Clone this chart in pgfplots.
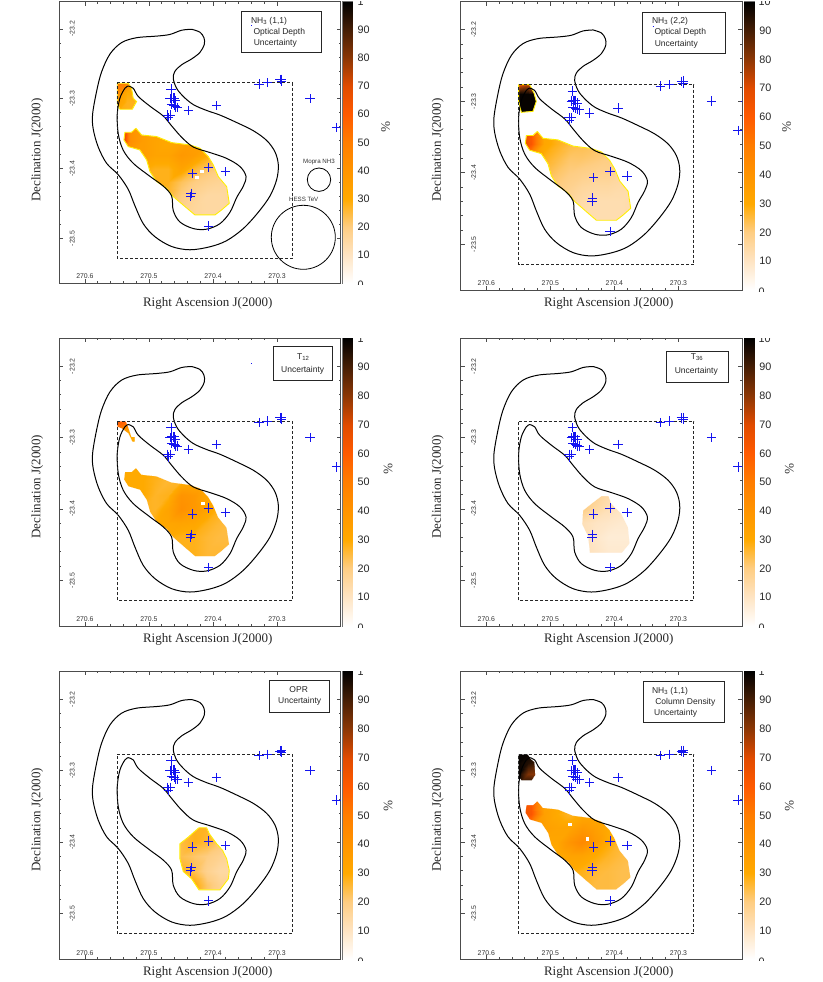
\documentclass[border=0pt]{standalone}
\usepackage{fontspec}
\setmainfont{Liberation Sans}
\newfontfamily\serifff{Liberation Serif}
\usepackage{pgfplots}
\usepackage{pgfplotstable}
\pgfplotsset{compat=1.18}

% contours
\pgfplotstableread{
ra dec
270.4333 -23.2005
270.4203 -23.2047
270.4141 -23.2126
270.4135 -23.2220
270.4203 -23.2336
270.4333 -23.2430
270.4490 -23.2514
270.4594 -23.2607
270.4620 -23.2710
270.4568 -23.2850
270.4464 -23.2967
270.4307 -23.3084
270.4099 -23.3168
270.3891 -23.3234
270.3630 -23.3341
270.3370 -23.3458
270.3161 -23.3598
270.3031 -23.3762
270.2979 -23.3949
270.3005 -23.4159
270.3109 -23.4393
270.3292 -23.4626
270.3526 -23.4860
270.3786 -23.5033
270.4047 -23.5121
270.4359 -23.5164
270.4646 -23.5117
270.4906 -23.4977
270.5089 -23.4790
270.5219 -23.4533
270.5323 -23.4299
270.5479 -23.4089
270.5661 -23.3925
270.5792 -23.3692
270.5870 -23.3435
270.5880 -23.3224
270.5818 -23.2897
270.5740 -23.2617
270.5609 -23.2360
270.5427 -23.2196
270.5193 -23.2126
270.4880 -23.2103
270.4672 -23.2079
270.4490 -23.2019
270.4333 -23.2005
}\outercontour
\pgfplotstableread{
ra dec
270.5323 -23.2818
270.5245 -23.2850
270.5167 -23.2967
270.4984 -23.3107
270.4776 -23.3248
270.4646 -23.3388
270.4490 -23.3551
270.4307 -23.3692
270.4047 -23.3771
270.3786 -23.3855
270.3578 -23.3972
270.3484 -23.4112
270.3526 -23.4252
270.3630 -23.4416
270.3734 -23.4626
270.3891 -23.4790
270.4099 -23.4869
270.4307 -23.4860
270.4516 -23.4766
270.4620 -23.4603
270.4646 -23.4393
270.4776 -23.4252
270.4984 -23.4112
270.5245 -23.3925
270.5401 -23.3738
270.5479 -23.3505
270.5495 -23.3224
270.5453 -23.2991
270.5375 -23.2850
270.5323 -23.2818
}\innercontour

% sources: the two arms of each cross, one path
\pgfplotstableread{
ra dec
270.4729 -23.2860
270.4583 -23.2860
nan nan
270.4656 -23.2794
270.4656 -23.2926
nan nan
270.4719 -23.2991
270.4573 -23.2991
nan nan
270.4646 -23.2925
270.4646 -23.3057
nan nan
270.4693 -23.2991
270.4547 -23.2991
nan nan
270.4620 -23.2925
270.4620 -23.3057
nan nan
270.4745 -23.3000
270.4599 -23.3000
nan nan
270.4672 -23.2934
270.4672 -23.3066
nan nan
270.4677 -23.2991
270.4531 -23.2991
nan nan
270.4604 -23.2925
270.4604 -23.3057
nan nan
270.4656 -23.3028
270.4510 -23.3028
nan nan
270.4583 -23.2962
270.4583 -23.3094
nan nan
270.4719 -23.3084
270.4573 -23.3084
nan nan
270.4646 -23.3018
270.4646 -23.3150
nan nan
270.4682 -23.3098
270.4536 -23.3098
nan nan
270.4609 -23.3032
270.4609 -23.3164
nan nan
270.4656 -23.3117
270.4510 -23.3117
nan nan
270.4583 -23.3051
270.4583 -23.3183
nan nan
270.4625 -23.3121
270.4479 -23.3121
nan nan
270.4552 -23.3055
270.4552 -23.3187
nan nan
270.4458 -23.3168
270.4312 -23.3168
nan nan
270.4385 -23.3102
270.4385 -23.3234
nan nan
270.4016 -23.3098
270.3870 -23.3098
nan nan
270.3943 -23.3032
270.3943 -23.3164
nan nan
270.4781 -23.3234
270.4635 -23.3234
nan nan
270.4708 -23.3168
270.4708 -23.3300
nan nan
270.4745 -23.3234
270.4599 -23.3234
nan nan
270.4672 -23.3168
270.4672 -23.3300
nan nan
270.4771 -23.3271
270.4625 -23.3271
nan nan
270.4698 -23.3205
270.4698 -23.3337
nan nan
270.4396 -23.4070
270.4250 -23.4070
nan nan
270.4323 -23.4004
270.4323 -23.4136
nan nan
270.4141 -23.3986
270.3995 -23.3986
nan nan
270.4068 -23.3920
270.4068 -23.4052
nan nan
270.3875 -23.4047
270.3729 -23.4047
nan nan
270.3802 -23.3981
270.3802 -23.4113
nan nan
270.4417 -23.4355
270.4271 -23.4355
nan nan
270.4344 -23.4289
270.4344 -23.4421
nan nan
270.4422 -23.4402
270.4276 -23.4402
nan nan
270.4349 -23.4336
270.4349 -23.4468
nan nan
270.4141 -23.4822
270.3995 -23.4822
nan nan
270.4068 -23.4756
270.4068 -23.4888
nan nan
270.3354 -23.2790
270.3208 -23.2790
nan nan
270.3281 -23.2724
270.3281 -23.2856
nan nan
270.3219 -23.2771
270.3073 -23.2771
nan nan
270.3146 -23.2705
270.3146 -23.2837
nan nan
270.3026 -23.2724
270.2880 -23.2724
nan nan
270.2953 -23.2658
270.2953 -23.2790
nan nan
270.3000 -23.2720
270.2854 -23.2720
nan nan
270.2927 -23.2654
270.2927 -23.2786
nan nan
270.3000 -23.2748
270.2854 -23.2748
nan nan
270.2927 -23.2682
270.2927 -23.2814
nan nan
270.2557 -23.3000
270.2411 -23.3000
nan nan
270.2484 -23.2934
270.2484 -23.3066
nan nan
270.2141 -23.3411
270.1995 -23.3411
nan nan
270.2068 -23.3345
270.2068 -23.3477
nan nan
270.2023 -23.3000
270.1877 -23.3000
nan nan
270.1950 -23.2934
270.1950 -23.3066
}\sources

% uncertainty grids (percent), one column per panel
\pgfplotstableread{
ra dec a b c d e f
270.55 -23.34 99 65 30 15 28 60
270.53 -23.34 42 60 30 15 28 60
270.51 -23.34 35 30 30 15 28 32
270.49 -23.34 33 28 30 15 28 30
270.47 -23.34 33 26 30 15 28 30
270.45 -23.34 32 25 28 15 28 30
270.43 -23.34 33 25 28 15 28 30
270.41 -23.34 33 25 28 15 28 28
270.39 -23.34 30 25 28 15 28 28
270.37 -23.34 28 25 28 15 28 28
270.55 -23.36 99 70 30 15 28 65
270.53 -23.36 42 62 30 15 28 62
270.51 -23.36 36 32 30 15 28 35
270.49 -23.36 33 28 28 15 28 30
270.47 -23.36 31 25 26 15 28 27
270.45 -23.36 33 24 27 15 28 30
270.43 -23.36 35 23 28 15 28 30
270.41 -23.36 33 22 28 15 28 28
270.39 -23.36 28 20 28 15 28 25
270.37 -23.36 25 18 28 15 28 25
270.55 -23.38 60 55 30 18 28 55
270.53 -23.38 36 38 30 18 28 42
270.51 -23.38 36 28 30 18 28 35
270.49 -23.38 33 25 27 18 28 33
270.47 -23.38 33 22 28 18 28 33
270.45 -23.38 38 22 40 20 28 38
270.43 -23.38 36 21 38 18 28 35
270.41 -23.38 30 20 32 14 27 30
270.39 -23.38 25 18 30 12 25 28
270.37 -23.38 22 16 28 10 22 25
270.55 -23.40 40 35 30 16 25 35
270.53 -23.40 35 30 30 16 25 32
270.51 -23.40 30 25 28 16 25 32
270.49 -23.40 28 22 27 16 25 32
270.47 -23.40 28 20 33 16 25 40
270.45 -23.40 33 19 42 20 25 45
270.43 -23.40 26 18 38 15 28 38
270.41 -23.40 22 18 33 12 26 30
270.39 -23.40 20 16 28 10 22 26
270.37 -23.40 18 15 27 9 20 24
270.55 -23.42 30 28 28 15 24 30
270.53 -23.42 30 25 28 15 24 30
270.51 -23.42 28 22 28 15 24 30
270.49 -23.42 28 20 30 15 24 30
270.47 -23.42 28 18 32 15 24 33
270.45 -23.42 23 16 33 12 24 33
270.43 -23.42 20 15 32 10 22 30
270.41 -23.42 18 15 28 9 20 27
270.39 -23.42 17 14 26 8 18 25
270.37 -23.42 17 14 25 8 17 24
270.55 -23.44 28 22 28 15 28 30
270.53 -23.44 28 22 28 15 28 30
270.51 -23.44 28 20 28 15 28 30
270.49 -23.44 28 18 30 15 28 30
270.47 -23.44 26 16 30 15 28 30
270.45 -23.44 20 14 28 12 28 28
270.43 -23.44 17 13 28 9 24 26
270.41 -23.44 15 13 26 7 18 25
270.39 -23.44 15 13 25 7 15 24
270.37 -23.44 16 14 25 7 15 24
270.55 -23.46 28 20 28 15 32 28
270.53 -23.46 28 20 28 15 32 28
270.51 -23.46 28 20 28 15 32 28
270.49 -23.46 28 18 28 15 32 28
270.47 -23.46 24 15 28 15 32 28
270.45 -23.46 18 13 28 12 32 27
270.43 -23.46 16 13 28 10 30 25
270.41 -23.46 15 13 26 8 22 25
270.39 -23.46 15 13 26 8 18 24
270.37 -23.46 16 14 26 8 16 24
270.55 -23.48 28 20 28 15 32 28
270.53 -23.48 28 20 28 15 32 28
270.51 -23.48 28 20 28 15 32 28
270.49 -23.48 28 18 28 15 32 28
270.47 -23.48 22 15 28 15 32 28
270.45 -23.48 18 13 28 12 32 27
270.43 -23.48 16 13 28 10 30 25
270.41 -23.48 15 13 26 8 22 25
270.39 -23.48 15 13 26 8 18 24
270.37 -23.48 16 14 26 8 16 24
}\gridmain
\pgfplotstableread{
ra dec a b c f
270.550 -23.275 55 62 62 99
270.535 -23.275 50 70 60 99
270.520 -23.275 35 50 30 95
270.550 -23.290 45 99 50 99
270.535 -23.290 30 99 35 95
270.520 -23.290 30 99 30 90
270.550 -23.305 35 99 30 99
270.535 -23.305 28 99 30 82
270.520 -23.305 28 99 30 80
270.550 -23.320 30 99 30 99
270.535 -23.320 28 99 30 99
270.520 -23.320 28 99 30 85
}\gridcorner

% region outlines
\pgfplotstableread{
ra dec
270.552 -23.338
270.368 -23.338
270.368 -23.482
270.552 -23.482
270.552 -23.338
}\rectmain
\pgfplotstableread{
ra dec
270.552 -23.273
270.518 -23.273
270.518 -23.322
270.552 -23.322
270.552 -23.273
}\rectcorner
\pgfplotstableread{
ra dec
270.5203 -23.3423
270.5115 -23.3519
270.4880 -23.3542
270.4646 -23.3628
270.4359 -23.3662
270.4203 -23.3710
270.4073 -23.3829
270.3995 -23.3948
270.3917 -23.4116
270.3786 -23.4259
270.3745 -23.4498
270.3865 -23.4593
270.3969 -23.4665
270.4281 -23.4665
270.4437 -23.4545
270.4620 -23.4402
270.4724 -23.4283
270.4880 -23.4187
270.4984 -23.4044
270.5036 -23.3877
270.5141 -23.3734
270.5323 -23.3686
270.5391 -23.3590
270.5375 -23.3480
270.5271 -23.3480
270.5203 -23.3423
}\shapelong
\pgfplotstableread{
ra dec
270.4203 -23.3818
270.4089 -23.3818
270.4047 -23.3925
270.3891 -23.4065
270.3786 -23.4252
270.3760 -23.4486
270.3880 -23.4617
270.4385 -23.4617
270.4411 -23.4393
270.4505 -23.4215
270.4490 -23.4019
270.4359 -23.3925
270.4203 -23.3818
}\shapefour
\pgfplotstableread{
ra dec
270.4219 -23.3799
270.4099 -23.3799
270.4057 -23.3883
270.3943 -23.4023
270.3849 -23.4117
270.3786 -23.4234
270.3745 -23.4397
270.3760 -23.4514
270.3891 -23.4668
270.4219 -23.4668
270.4333 -23.4514
270.4464 -23.4411
270.4516 -23.4234
270.4516 -23.4023
270.4385 -23.3930
270.4219 -23.3799
}\shapefive
\pgfplotstableread{
ra dec
270.5495 -23.2778
270.5323 -23.2778
270.5271 -23.2850
270.5245 -23.2993
270.5193 -23.3041
270.5260 -23.3151
270.5453 -23.3151
270.5495 -23.3065
270.5495 -23.2778
}\cornerone
\pgfplotstableread{
ra dec
270.5495 -23.2770
270.5323 -23.2770
270.5255 -23.2886
270.5219 -23.3003
270.5271 -23.3143
270.5453 -23.3157
270.5495 -23.3003
270.5495 -23.2770
}\cornertwo
\pgfplotstableread{
ra dec
270.5495 -23.2771
270.5359 -23.2771
270.5323 -23.2850
270.5271 -23.2991
270.5219 -23.2991
270.5219 -23.3061
270.5260 -23.3061
270.5323 -23.2944
270.5427 -23.2874
270.5495 -23.2850
270.5495 -23.2771
}\cornerthree
\pgfplotstableread{
ra dec
270.5495 -23.2771
270.5349 -23.2771
270.5307 -23.2832
270.5245 -23.2879
270.5234 -23.3065
270.5286 -23.3136
270.5453 -23.3136
270.5495 -23.3089
270.5495 -23.2771
}\cornersix

% colour scale, 0 to 100 percent
\pgfplotstableread{
x y
0 0
1 0
0 10
1 10
0 20
1 20
0 30
1 30
0 40
1 40
0 50
1 50
0 60
1 60
0 70
1 70
0 80
1 80
0 90
1 90
0 100
1 100
}\scaletable

\newcommand{\mkmask}[3]{\pgfplotstablevertcat{#1}{#2}\pgfplotstablevertcat{#1}{#3}}
\mkmask{\masklong}{\rectmain}{\shapelong}
\mkmask{\maskfour}{\rectmain}{\shapefour}
\mkmask{\maskfive}{\rectmain}{\shapefive}
\mkmask{\maskcone}{\rectcorner}{\cornerone}
\mkmask{\maskctwo}{\rectcorner}{\cornertwo}
\mkmask{\maskcthree}{\rectcorner}{\cornerthree}
\mkmask{\maskcsix}{\rectcorner}{\cornersix}

\definecolor{srcblue}{RGB}{20,20,240}

\pgfplotsset{
  colormap={uncert}{
    rgb255=(255,255,255) rgb255=(254,228,195) rgb255=(254,205,130) rgb255=(255,170,0)
    rgb255=(255,148,0) rgb255=(255,125,0) rgb255=(255,90,0) rgb255=(225,75,0)
    rgb255=(140,55,5) rgb255=(70,30,5) rgb255=(0,0,0)
  },
  panelaxis/.style={
    scale only axis, width=281.4pt,
    x dir=reverse, xmin=270.2005, xmax=270.64,
    ymin=-23.564, ymax=-23.161,
    colormap name=uncert, point meta min=0, point meta max=100,
    xtick={270.6,270.5,270.4,270.3}, xticklabels={270.6,270.5,270.4,270.3},
    ytick={-23.5,-23.4,-23.3,-23.2}, yticklabels={-23.5,-23.4,-23.3,-23.2},
    minor x tick num=4, minor y tick num=4,
    tick align=inside, major tick length=4pt, minor tick length=2pt,
    axis line style={black!70, line width=0.9pt},
    tick style={black!70, line width=0.6pt},
    xticklabel style={font=\fontsize{6.9}{7}\selectfont, text=black!80, yshift=12.5pt},
    yticklabel style={font=\fontsize{6.9}{7}\selectfont, text=black!80, rotate=90, anchor=center, yshift=-13pt},
  },
  contour/.style={black, line width=1pt, smooth, tension=0.55, no markers},
}

\newcommand{\blobplot}[3]{% grid, panel column, mask
  \addplot[surf, shader=interp, mesh/cols=10, point meta=explicit, forget plot]
    table[x=ra, y=dec, meta=#2] {#1};
  \addplot[fill=white, draw=white, line width=0.2pt, even odd rule, no markers] table[x=ra, y=dec] {#3};
}
\newcommand{\cornerplot}[2]{% panel column, mask
  \addplot[surf, shader=interp, mesh/cols=3, point meta=explicit, forget plot]
    table[x=ra, y=dec, meta=#1] {\gridcorner};
  \addplot[fill=white, draw=white, line width=0.2pt, even odd rule, no markers] table[x=ra, y=dec] {#2};
}
\newcommand{\edge}[1]{\addplot[yellow!95!orange, line width=0.9pt, no markers] table[x=ra, y=dec] {#1};}
\newcommand{\gaps}[1]{\addplot[only marks, color=white, mark=square*, mark size=1.1pt] coordinates {#1};}
\newcommand{\spot}[1]{\addplot[draw=srcblue, line width=1pt, no markers] coordinates {#1};}

\newcommand{\panel}[4]{% left, bottom, height, body
  \begin{axis}[panelaxis, at={(#1pt,#2pt)}, anchor=south west, height=#3, unbounded coords=jump]
    #4
    \addplot[contour] table[x=ra, y=dec] {\outercontour};
    \addplot[contour] table[x=ra, y=dec] {\innercontour};
    \addplot[black!85, line width=0.9pt, dash pattern=on 3pt off 2pt, no markers]
      coordinates {(270.5495,-23.2771) (270.2760,-23.2771) (270.2760,-23.5285) (270.5495,-23.5285) (270.5495,-23.2771)};
    \addplot[draw=srcblue, line width=0.8pt, no markers] table[x=ra, y=dec] {\sources};
  \end{axis}
}

% colour bar next to a panel
\newcommand{\cbar}[3]{% left, bottom, height
  \begin{axis}[scale only axis, at={(#1pt,#2pt)}, anchor=south west, width=10pt, height=#3,
    xmin=0, xmax=1, ymin=0, ymax=100, xtick=\empty,
    ytick={10,20,30,40,50,60,70,80,90}, yticklabels={10,20,30,40,50,60,70,80,90},
    yticklabel pos=right, major tick length=0pt,
    colormap name=uncert, point meta min=0, point meta max=100,
    axis line style={black!55, line width=0.7pt},
    yticklabel style={font=\fontsize{10.8}{11}\selectfont, text=black!85, xshift=1.5pt}]
    \addplot[surf, shader=interp, mesh/cols=2, point meta=explicit] table[x=x, y=y, meta=y] {\scaletable};
  \end{axis}
}

\newcommand{\seriflabels}[4]{% x of xlabel, y of xlabel, x of ylabel, y of ylabel
  \node[font=\serifff\fontsize{13}{14}\selectfont, text=black!85] at (#1,#2) {Right Ascension J(2000)};
  \node[font=\serifff\fontsize{13}{14}\selectfont, text=black!85, rotate=90] at (#3,#4) {Declination J(2000)};
}
\newcommand{\pct}[2]{\node[font=\serifff\fontsize{13}{14}\selectfont, text=black!80, rotate=-90] at (#1,#2) {\%};}
\newcommand{\txt}[3]{\node[font=\fontsize{8.5}{9}\selectfont, text=black!85, inner sep=0pt] at (#1,#2) {#3};}
\newcommand{\lbox}[4]{\draw[black!85, line width=0.9pt, fill=white] (#1,#2) rectangle (#3,#4);}
\newcommand{\cuts}[4]{% label x, top y, bottom y, top text
  \begin{scope}\clip (#1-1,#2) rectangle (#1+14,#2+4);
    \node[font=\fontsize{10.8}{11}\selectfont, text=black!85, anchor=west, inner sep=0pt] at (#1,#2) {#4};
  \end{scope}
  \begin{scope}\clip (#1-1,#3-3) rectangle (#1+14,#3+1);
    \node[font=\fontsize{10.8}{11}\selectfont, text=black!85, anchor=west, inner sep=0pt] at (#1,#3+2) {0};
  \end{scope}
}

\begin{document}
\begin{tikzpicture}[x=1pt, y=-1pt]
\useasboundingbox (0,0) rectangle (822,982);

\lbox{241.7}{11.7}{321.7}{52.3}
\lbox{642.7}{12}{725.7}{53.3}
\lbox{273.3}{346.7}{332.3}{380}
\lbox{666.3}{351}{728}{382.7}
\lbox{269.7}{680}{329.7}{712.7}
\lbox{643.7}{681.7}{724.3}{722.7}

\panel{59.3}{-283}{281.3pt}{\blobplot{\gridmain}{a}{\masklong}\cornerplot{a}{\maskcone}\edge{\shapelong}\edge{\cornerone}\gaps{(270.4177,-23.4044) (270.4255,-23.4125)}\spot{(270.3404,-23.1952) (270.3388,-23.1952)}}
\panel{460.7}{-290}{288.3pt}{\blobplot{\gridmain}{b}{\masklong}\cornerplot{b}{\maskctwo}\edge{\shapelong}\edge{\cornertwo}\spot{(270.3404,-23.1953) (270.3388,-23.1953)}}
\panel{59.3}{-626}{287.7pt}{\blobplot{\gridmain}{c}{\masklong}\cornerplot{c}{\maskcthree}\gaps{(270.4161,-23.3916)}\spot{(270.3404,-23.1958) (270.3388,-23.1958)}}
\panel{460.7}{-626}{287.7pt}{\blobplot{\gridmain}{d}{\maskfour}}
\panel{59.3}{-959.3}{288pt}{\blobplot{\gridmain}{e}{\maskfive}\edge{\shapefive}}
\panel{460.7}{-959.3}{288pt}{\blobplot{\gridmain}{f}{\masklong}\cornerplot{f}{\maskcsix}\gaps{(270.4698,-23.3752) (270.4427,-23.3953)}}

\cbar{342.7}{-283}{281.3pt}
\cbar{744.3}{-290}{288.3pt}
\cbar{342.7}{-626}{287.7pt}
\cbar{744.3}{-626}{287.7pt}
\cbar{342.7}{-959.3}{288pt}
\cbar{744.3}{-959.3}{288pt}

\cuts{357.3}{1.7}{283}{1}
\cuts{758.5}{1.7}{290}{10}
\cuts{357.3}{338.3}{626}{1}
\cuts{758.5}{338.3}{626}{10}
\cuts{357.3}{671.3}{959.3}{1}
\cuts{758.5}{671.3}{959.3}{1}

\seriflabels{207.7}{303}{37.3}{150}
\seriflabels{608.7}{303}{437.7}{150}
\seriflabels{207.7}{639.3}{37.3}{486.7}
\seriflabels{608.7}{639.3}{437.7}{486.7}
\seriflabels{207.7}{972.7}{37.3}{819.7}
\seriflabels{608.7}{972.7}{437.7}{819.7}

\pct{385.7}{127}
\pct{786.7}{127}
\pct{388}{469}
\pct{789.3}{469}
\pct{388}{806}
\pct{789.3}{806}

% panel notes
\txt{269}{21}{NH\textsubscript{3} (1,1)}
\txt{279.3}{32}{Optical Depth}
\txt{275.3}{43.3}{Uncertainty}

\txt{670}{21}{NH\textsubscript{3} (2,2)}
\txt{680.3}{32.7}{Optical Depth}
\txt{676.3}{44}{Uncertainty}

\txt{303.3}{357.3}{T\textsubscript{12}}
\txt{302.7}{370.3}{Uncertainty}

\txt{697}{357.3}{T\textsubscript{36}}
\txt{696.3}{371.3}{Uncertainty}

\txt{298.7}{690}{OPR}
\txt{299.7}{701.7}{Uncertainty}

\txt{670}{691}{NH\textsubscript{3} (1,1)}
\txt{685.3}{702.7}{Column Density}
\txt{675.7}{713.7}{Uncertainty}

% beam sizes, first panel only
\draw[black, line width=0.8pt] (319,179.7) circle (11.7);
\draw[black, line width=0.8pt] (303.3,237.3) circle (32);
\node[font=\fontsize{6.2}{7}\selectfont, text=black!80, inner sep=0pt] at (319,162.3) {Mopra NH3};
\node[font=\fontsize{6.2}{7}\selectfont, text=black!80, inner sep=0pt] at (303.7,199.5) {HESS TeV};
\end{tikzpicture}
\end{document}
